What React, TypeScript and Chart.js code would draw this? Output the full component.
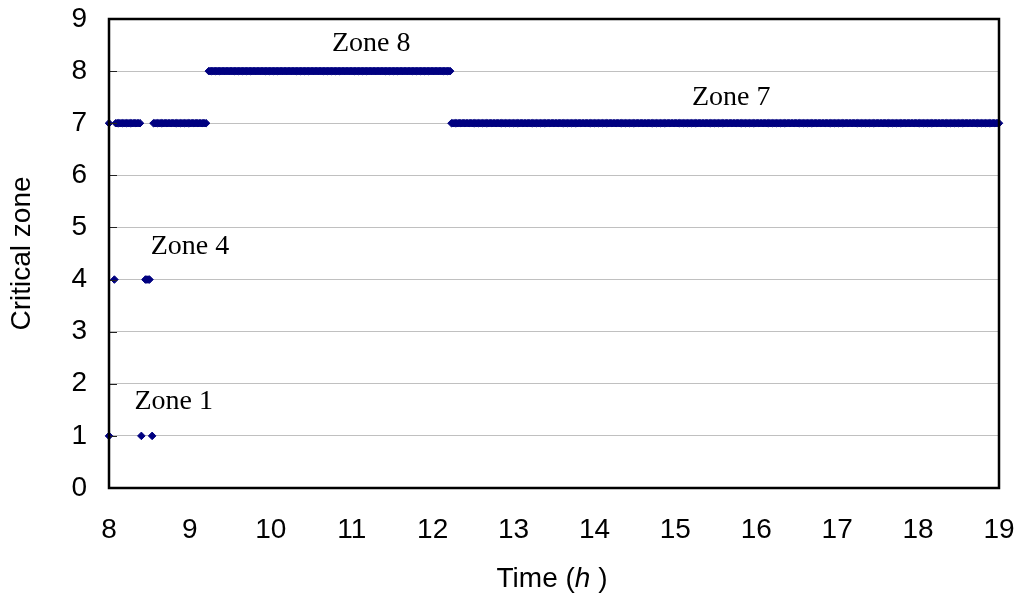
import React, { useEffect, useRef } from "react";
import { Chart, registerables } from "chart.js";

Chart.register(...registerables);

// ---- data ----
// time axis in hours, samples recorded in minutes after 08:00
const startHour = 8;
const endHour = 19;
const zoneMin = 0;
const zoneMax = 9;
const sampleStepMinutes = 1;

// isolated samples (minutes after 08:00)
const zone1Minutes = [0, 24, 32];
const zone4Minutes = [4, 27, 28, 29, 30];

// continuous runs of samples [first minute, last minute]
const zone7Runs: [number, number][] = [
  [0, 0],
  [5, 23],
  [33, 72],
  [254, 660],
];
const zone8Runs: [number, number][] = [[74, 253]];

// annotation texts and their anchor (in data units)
const zoneLabelTexts = ["Zone 8", "Zone 7", "Zone 4", "Zone 1"];
const zoneLabelHours = [11.24, 15.69, 9.0, 8.8];
const zoneLabelZones = [8.52, 7.5, 4.64, 1.65];

const SANS = '"Liberation Sans", Arial, Helvetica, sans-serif';
const SERIF = '"Liberation Serif", "Times New Roman", Times, serif';
const NAVY = "#000080";

export default function App() {
  const ref = useRef<HTMLCanvasElement>(null);

  useEffect(() => {
    document.body.style.margin = "0";
    const canvas = ref.current;
    if (!canvas) return;

    const toHours = (m: number) => startHour + m / 60;
    const expand = (runs: [number, number][]) => {
      const out: number[] = [];
      for (const [a, b] of runs) {
        for (let m = a; m <= b; m += sampleStepMinutes) out.push(m);
      }
      return out;
    };
    const pts = (mins: number[], zone: number) =>
      mins.map((m) => ({ x: toHours(m), y: zone }));

    const points = [
      ...pts(zone1Minutes, 1),
      ...pts(zone4Minutes, 4),
      ...pts(expand(zone7Runs), 7),
      ...pts(expand(zone8Runs), 8),
    ];

    const decor = {
      id: "decor",
      afterDatasetsDraw(chart: any) {
        const ctx = chart.ctx as CanvasRenderingContext2D;
        const xs = chart.scales.x;
        const ys = chart.scales.y;
        ctx.save();
        ctx.fillStyle = "#000";
        ctx.font = `28px ${SERIF}`;
        ctx.textAlign = "center";
        ctx.textBaseline = "middle";
        zoneLabelTexts.forEach((t, i) => {
          ctx.fillText(
            t,
            xs.getPixelForValue(zoneLabelHours[i]),
            ys.getPixelForValue(zoneLabelZones[i])
          );
        });
        ctx.restore();
      },
      afterDraw(chart: any) {
        const ctx = chart.ctx as CanvasRenderingContext2D;
        const a = chart.chartArea;
        const ys = chart.scales.y;
        ctx.save();
        // inside tick marks on the value axis
        ctx.strokeStyle = "#222";
        ctx.lineWidth = 1;
        ys.ticks.forEach((t: any) => {
          const y = Math.round(ys.getPixelForValue(t.value)) + 0.5;
          ctx.beginPath();
          ctx.moveTo(a.left, y);
          ctx.lineTo(a.left + 8, y);
          ctx.stroke();
        });
        // plot frame
        ctx.strokeStyle = "#000";
        ctx.lineWidth = 2.5;
        ctx.strokeRect(a.left, a.top, a.right - a.left, a.bottom - a.top);

        // x axis title with italic h
        const regular = `28px ${SANS}`;
        const italic = `italic 28px ${SANS}`;
        const p1 = "Time (";
        const p2 = "h";
        const p3 = " )";
        ctx.font = regular;
        const w1 = ctx.measureText(p1).width;
        const w3 = ctx.measureText(p3).width;
        ctx.font = italic;
        const w2 = ctx.measureText(p2).width;
        const total = w1 + w2 + w3;
        let x = (a.left + a.right) / 2 - 2 - total / 2;
        const base = 587;
        ctx.fillStyle = "#000";
        ctx.textAlign = "left";
        ctx.textBaseline = "alphabetic";
        ctx.font = regular;
        ctx.fillText(p1, x, base);
        x += w1;
        ctx.font = italic;
        ctx.fillText(p2, x, base);
        x += w2;
        ctx.font = regular;
        ctx.fillText(p3, x, base);
        ctx.restore();
      },
    };

    const chart = new Chart(canvas, {
      type: "scatter",
      data: {
        datasets: [
          {
            label: "Critical zone",
            data: points,
            showLine: false,
            pointStyle: "rectRot",
            pointRadius: 3.8,
            pointHoverRadius: 3.8,
            borderWidth: 1,
            backgroundColor: NAVY,
            borderColor: NAVY,
            clip: false as any,
          },
        ],
      },
      options: {
        responsive: false,
        animation: false,
        events: [],
        layout: { padding: { left: 0, top: 19, right: 22, bottom: 0 } },
        plugins: {
          legend: { display: false },
          tooltip: { enabled: false },
          title: { display: false },
        },
        scales: {
          x: {
            type: "linear",
            min: startHour,
            max: endHour,
            afterFit: (s: any) => {
              s.height = 109;
              s.paddingLeft = 0;
              s.paddingRight = 0;
            },
            ticks: {
              stepSize: 1,
              autoSkip: false,
              maxRotation: 0,
              padding: 25,
              color: "#000",
              font: { family: SANS, size: 28 },
            },
            grid: { display: false, drawTicks: false },
            border: { display: false },
          },
          y: {
            type: "linear",
            min: zoneMin,
            max: zoneMax,
            afterFit: (s: any) => {
              s.width = 109;
              s.paddingTop = 0;
              s.paddingBottom = 0;
            },
            ticks: {
              stepSize: 1,
              padding: 22,
              color: "#000",
              font: { family: SANS, size: 28 },
            },
            grid: {
              color: "#c0c0c0",
              lineWidth: 1,
              drawTicks: false,
            },
            border: { display: false },
            title: {
              display: true,
              text: "Critical zone",
              color: "#000",
              font: { family: SANS, size: 28 },
              padding: { top: 5, bottom: 0 },
            },
          },
        },
      },
      plugins: [decor],
    });

    return () => chart.destroy();
  }, []);

  return (
    <div style={{ width: 1021, height: 597 }}>
      <canvas ref={ref} width={1021} height={597} style={{ display: "block" }} />
    </div>
  );
}
